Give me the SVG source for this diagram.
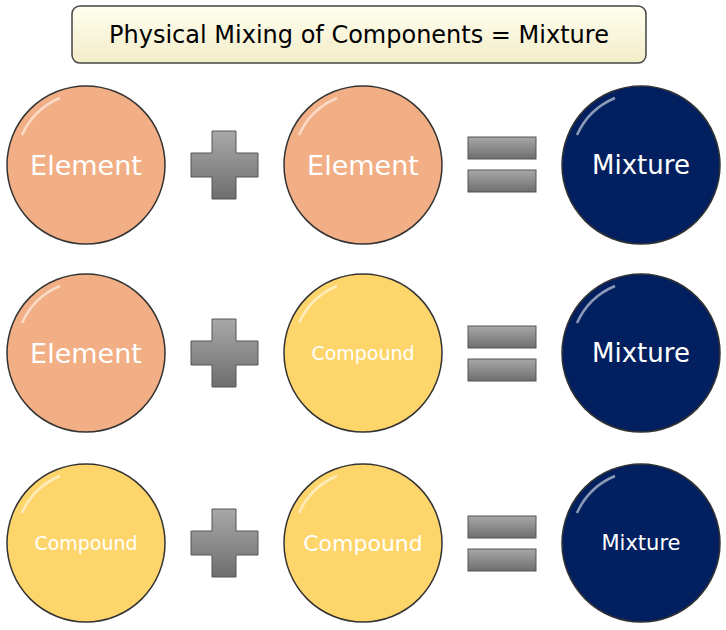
<svg xmlns="http://www.w3.org/2000/svg" width="726" height="630" viewBox="0 0 726 630">
<defs>
<linearGradient id="tg" x1="0" y1="0" x2="0" y2="1"><stop offset="0" stop-color="#fffff0"/><stop offset="1" stop-color="#f3ecc8"/></linearGradient>
<linearGradient id="gg" x1="0" y1="0" x2="0" y2="1"><stop offset="0" stop-color="#a8a8a8"/><stop offset="1" stop-color="#6e6e6e"/></linearGradient>
<g id="plus"><path d="M21,0h24v22h22v24h-22v22h-24v-22h-21v-24h21z" fill="url(#gg)" stroke="#555" stroke-width="1"/></g>
<g id="eq"><rect x="0" y="0" width="68" height="22" fill="url(#gg)" stroke="#555"/><rect x="0" y="33" width="68" height="22" fill="url(#gg)" stroke="#555"/></g>
</defs>
<style>
.el{fill:#f2ae84}.cp{fill:#fed56a}.mx{fill:#022060}
circle{stroke:#333;stroke-width:1.5}
.hl{fill:none;stroke:#fff;stroke-opacity:.55;stroke-width:2.5}
text{font-family:"Comic Sans MS","DejaVu Sans",sans-serif;fill:#fff;text-anchor:middle;dominant-baseline:central}
</style>
<g id="title"><rect x="72" y="6" width="574" height="57" rx="8" fill="url(#tg)" stroke="#444" stroke-width="1.5"/><text x="359" y="35" style="fill:#000;font-size:24px">Physical Mixing of Components = Mixture</text></g>
<g id="r1c1"><circle class="el" cx="86" cy="165" r="79"/><path class="hl" d="M22,135 A72,72 0 0 1 60,98"/><text x="86" y="165" font-size="27">Element</text></g>
<g id="r1c2"><circle class="el" cx="363" cy="165" r="79"/><path class="hl" d="M299,135 A72,72 0 0 1 337,98"/><text x="363" y="165" font-size="27">Element</text></g>
<g id="r1c3"><circle class="mx" cx="641" cy="165" r="79"/><path class="hl" d="M577,135 A72,72 0 0 1 615,98"/><text x="641" y="165" font-size="26">Mixture</text></g>
<g id="r2c1"><circle class="el" cx="86" cy="353" r="79"/><path class="hl" d="M22,323 A72,72 0 0 1 60,286"/><text x="86" y="353" font-size="27">Element</text></g>
<g id="r2c2"><circle class="cp" cx="363" cy="353" r="79"/><path class="hl" d="M299,323 A72,72 0 0 1 337,286"/><text x="363" y="353" font-size="19">Compound</text></g>
<g id="r2c3"><circle class="mx" cx="641" cy="353" r="79"/><path class="hl" d="M577,323 A72,72 0 0 1 615,286"/><text x="641" y="353" font-size="26">Mixture</text></g>
<g id="r3c1"><circle class="cp" cx="86" cy="543" r="79"/><path class="hl" d="M22,513 A72,72 0 0 1 60,476"/><text x="86" y="543" font-size="19">Compound</text></g>
<g id="r3c2"><circle class="cp" cx="363" cy="543" r="79"/><path class="hl" d="M299,513 A72,72 0 0 1 337,476"/><text x="363" y="543" font-size="22">Compound</text></g>
<g id="r3c3"><circle class="mx" cx="641" cy="543" r="79"/><path class="hl" d="M577,513 A72,72 0 0 1 615,476"/><text x="641" y="543" font-size="21">Mixture</text></g>
<g id="connectors">
<use href="#plus" x="191" y="131"/><use href="#plus" x="191" y="319"/><use href="#plus" x="191" y="509"/>
<use href="#eq" x="468" y="137"/><use href="#eq" x="468" y="326"/><use href="#eq" x="468" y="516"/>
</g>
</svg>
